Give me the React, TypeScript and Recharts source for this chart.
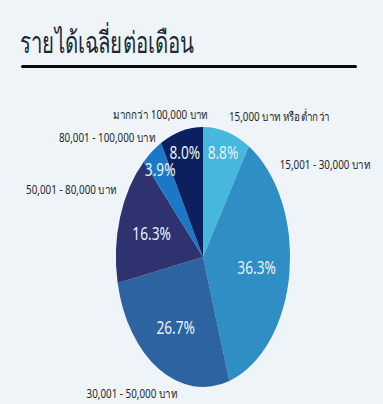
import React from "react";
import { PieChart, Pie, Cell } from "recharts";

const categories = [
  "15,000 บาท หรือต่ำกว่า",
  "15,001 - 30,000 บาท",
  "30,001 - 50,000 บาท",
  "50,001 - 80,000 บาท",
  "80,001 - 100,000 บาท",
  "มากกว่า 100,000 บาท",
];
const shares = [8.8, 36.3, 26.7, 16.3, 3.9, 8.0];
const sliceColors = ["#46b7dd", "#2f8ec4", "#2c63a0", "#2e326e", "#1b78c6", "#0c1f5e"];

const title = "รายได้เฉลี่ยต่อเดือน";

// layout of the outside category labels: clockwise angle from top (deg), radial factor
const nameLabelLayout = [
  { angle: 39, r: 1.39 },
  { angle: 63, r: 1.57 },
  { angle: 218, r: 1.33 },
  { angle: 289, r: 1.6 },
  { angle: 310, r: 1.44 },
  { angle: 336, r: 1.2 },
];

const X_SCALE = 0.67;
const RAD = Math.PI / 180;
const FONT = "'Noto Sans', sans-serif";

const data = categories.map((name, i) => ({ name, value: shares[i] }));

const ellipseSector = (props: any) => {
  const { cx, cy, outerRadius, startAngle, endAngle, fill } = props;
  const ry = outerRadius;
  const rx = outerRadius * X_SCALE;
  const p = (a: number) => [cx + rx * Math.cos(-a * RAD), cy + ry * Math.sin(-a * RAD)];
  const [x1, y1] = p(startAngle);
  const [x2, y2] = p(endAngle);
  const delta = Math.abs(endAngle - startAngle);
  const large = delta > 180 ? 1 : 0;
  const sweep = endAngle < startAngle ? 1 : 0;
  const d = `M${cx},${cy} L${x1},${y1} A${rx},${ry} 0 ${large} ${sweep} ${x2},${y2} Z`;
  return <path d={d} fill={fill} stroke="none" />;
};

const renderLabel = (props: any) => {
  const { cx, cy, midAngle, outerRadius, index, value, percent } = props;
  const ry = outerRadius;
  const rx = outerRadius * X_SCALE;
  const f = percent < 0.1 ? 0.84 : 0.62;
  const px = cx + rx * f * Math.cos(-midAngle * RAD);
  const py = cy + ry * f * Math.sin(-midAngle * RAD);
  const lay = nameLabelLayout[index];
  const nx = cx + rx * lay.r * Math.sin(lay.angle * RAD);
  const ny = cy - ry * lay.r * Math.cos(lay.angle * RAD);
  return (
    <g>
      <text
        x={0}
        y={0}
        transform={`translate(${px},${py}) scale(0.72,1)`}
        textAnchor="middle"
        dominantBaseline="central"
        fill="#e6f3fb"
        fontSize={19}
        fontFamily={FONT}
      >
        {`${Number(value).toFixed(1)}%`}
      </text>
      <text
        x={0}
        y={0}
        transform={`translate(${nx},${ny}) scale(0.82,1)`}
        textAnchor="middle"
        dominantBaseline="central"
        fill="#1d2733"
        fontSize={12}
        fontFamily={FONT}
      >
        {categories[index]}
      </text>
    </g>
  );
};

export default function App() {
  return (
    <div
      style={{
        position: "absolute",
        left: 0,
        top: 0,
        width: 383,
        height: 404,
        background: "#eef4f7",
        overflow: "hidden",
      }}
    >
      <div
        style={{
          position: "absolute",
          left: 20,
          top: 22,
          fontFamily: FONT,
          fontSize: 30,
          color: "#1b2a3a",
          lineHeight: "40px",
          whiteSpace: "nowrap",
          transform: "scaleX(0.68)",
          transformOrigin: "left top",
        }}
      >
        {title}
      </div>
      <div
        style={{
          position: "absolute",
          left: 21,
          top: 65,
          width: 336,
          height: 3,
          background: "#0a0a0a",
          borderRadius: 2,
        }}
      />
      <PieChart width={383} height={404} style={{ position: "absolute", left: 0, top: 0 }}>
        <Pie
          data={data}
          dataKey="value"
          nameKey="name"
          cx={198}
          cy={252}
          outerRadius={130}
          startAngle={90}
          endAngle={-270}
          isAnimationActive={false}
          labelLine={false}
          label={renderLabel}
          shape={ellipseSector}
          inactiveShape={ellipseSector}
          activeShape={ellipseSector}
          stroke="none"
        >
          {data.map((d, i) => (
            <Cell key={d.name} fill={sliceColors[i]} />
          ))}
        </Pie>
      </PieChart>
    </div>
  );
}
